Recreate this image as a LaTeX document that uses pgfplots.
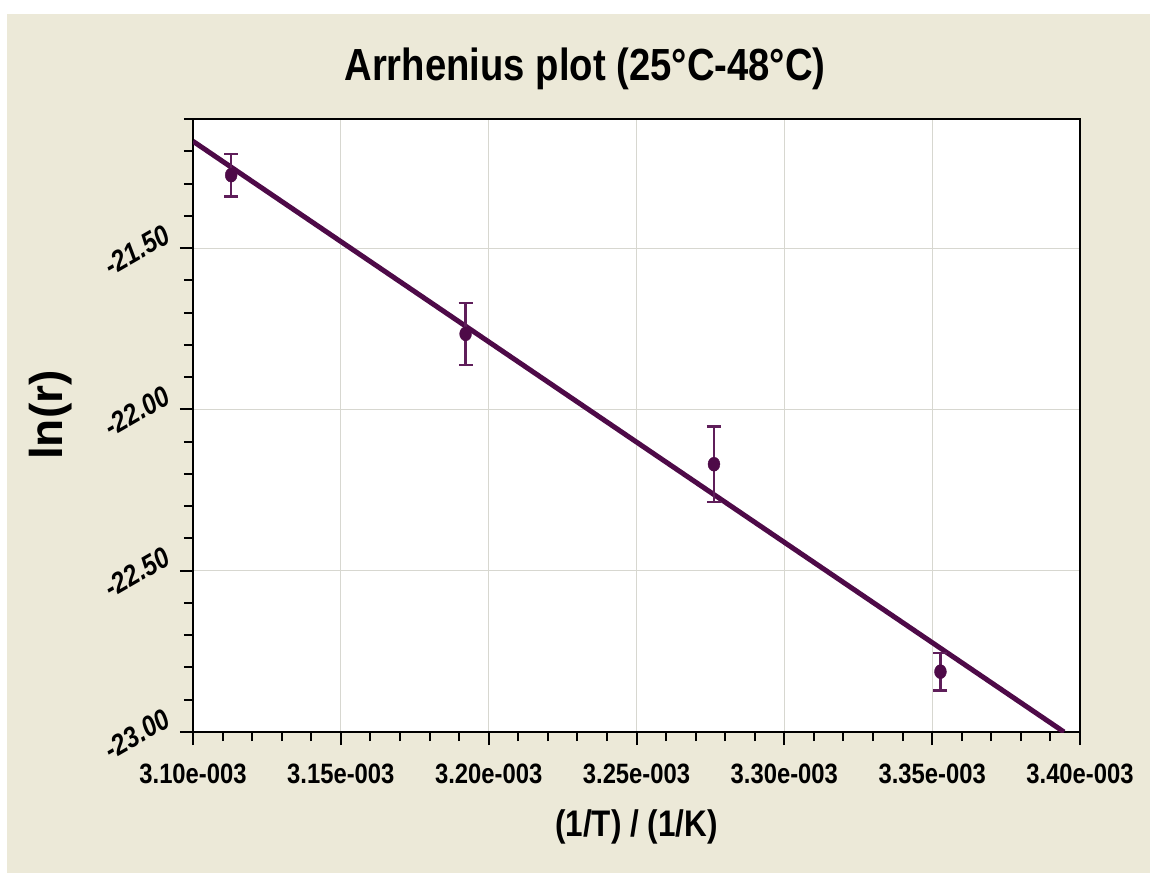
\documentclass[border=0pt]{standalone}
\usepackage{pgfplots}
\pgfplotsset{compat=1.18}
\usepackage{pgfplotstable}
\usepackage{fontspec}
\setmainfont{Liberation Sans}[FakeStretch=0.85]
\newfontfamily\plainsans{Liberation Sans}
\definecolor{bgc}{RGB}{236,233,216}
\definecolor{pur}{RGB}{78,10,72}
\definecolor{errc}{RGB}{95,30,90}
\definecolor{gridc}{RGB}{215,215,208}

\pgfplotstableread{
x y e
3.1129e-3 -21.274 0.066
3.1922e-3 -21.766 0.096
3.2762e-3 -22.170 0.117
3.3528e-3 -22.813 0.058
}\datatable

\begin{document}
\begin{tikzpicture}
\fill[white] (0,0) rectangle (1150pt,873pt);
\fill[bgc] (7pt,0) rectangle (1150pt,859pt);
\useasboundingbox (0,0) rectangle (1150pt,873pt);
\begin{axis}[
  at={(193pt,141pt)}, anchor=south west,
  scale only axis, width=887pt, height=613pt,
  xmin=3.10e-3, xmax=3.40e-3, ymin=-23, ymax=-21.1,
  axis background/.style={fill=white},
  axis line style={black, line width=2.5pt},
  scaled x ticks=false, scaled y ticks=false,
  xtick={3.10e-3,3.15e-3,3.20e-3,3.25e-3,3.30e-3,3.35e-3,3.40e-3},
  xticklabels={3.10e-003,3.15e-003,3.20e-003,3.25e-003,3.30e-003,3.35e-003,3.40e-003},
  minor xtick={3.11e-3,3.12e-3,3.13e-3,3.14e-3,3.16e-3,3.17e-3,3.18e-3,3.19e-3,
               3.21e-3,3.22e-3,3.23e-3,3.24e-3,3.26e-3,3.27e-3,3.28e-3,3.29e-3,
               3.31e-3,3.32e-3,3.33e-3,3.34e-3,3.36e-3,3.37e-3,3.38e-3,3.39e-3},
  ytick={-23,-22.5,-22,-21.5},
  yticklabels={-23.00,-22.50,-22.00,-21.50},
  minor ytick={-22.9,-22.8,-22.7,-22.6,-22.4,-22.3,-22.2,-22.1,-21.9,-21.8,-21.7,-21.6,-21.4,-21.3,-21.2,-21.1},
  tick align=outside, xtick pos=bottom, ytick pos=left,
  major tick length=13pt, minor tick length=9pt,
  every tick/.style={black, line width=2pt},
  xmajorgrids, ymajorgrids,
  major grid style={gridc, line width=1pt},
  title={Arrhenius plot (25\textdegree C-48\textdegree C)},
  title style={at={(0.442,1.072)}, anchor=center, font=\bfseries\fontsize{45}{45}\selectfont},
  xlabel={(1/T) / (1/K)},
  xlabel style={at={(0.5,-0.155)}, anchor=center, font=\bfseries\fontsize{37}{37}\selectfont},
  ylabel={ln(r)},
  ylabel style={at={(-0.160,0.517)}, anchor=center, font=\plainsans\bfseries\fontsize{46}{46}\selectfont},
  xticklabel style={anchor=center, yshift=-29pt, font=\bfseries\fontsize{28}{28}\selectfont},
  yticklabel style={xshift=-43pt, yshift=-2pt, rotate=30, anchor=center, font=\bfseries\itshape\fontsize{29}{29}\selectfont},
]
\addplot[pur, line width=5pt] coordinates {(3.10e-3,-21.169) (3.3946e-3,-23.0)};
\addplot[only marks, mark=*, mark size=7pt, color=pur,
  mark options={fill=pur, draw=pur, xscale=0.85},
  error bars/.cd, y dir=both, y explicit,
  error bar style={errc, line width=2.5pt},
  error mark options={rotate=90, errc, mark size=7pt, line width=2.5pt}]
  table[x=x, y=y, y error=e]{\datatable};
\end{axis}
\end{tikzpicture}
\end{document}
